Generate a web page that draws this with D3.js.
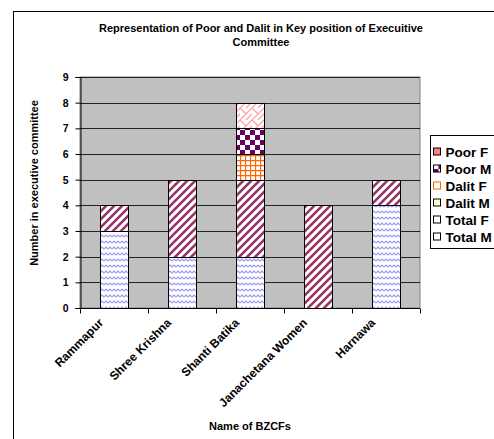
<!DOCTYPE html>
<html><head><meta charset="utf-8">
<script src="https://cdn.jsdelivr.net/npm/d3@7/dist/d3.min.js"></script>
<style>body{margin:0;background:#fff;}svg{display:block;font-family:Arial,"Liberation Sans",sans-serif;}</style>
</head><body>
<svg id="c" width="494" height="439"></svg>
<script>
const categories = ["Rammapur","Shree Krishna","Shanti Batika","Janachetana Women","Harnawa"];
const seriesNames = ["Poor F","Poor M","Dalit F","Dalit M","Total F","Total M"];
const totalM = [3,2,2,0,4];
const totalF = [1,3,3,4,1];
const dalitM = [0,0,0,0,0];
const dalitF = [0,0,1,0,0];
const poorM  = [0,0,1,0,0];
const poorF  = [0,0,1,0,0];
const yTicks = [0,1,2,3,4,5,6,7,8,9];

const svg = d3.select("#c");
const defs = svg.append("defs");

function pat(id,w,h,bg){const p=defs.append("pattern").attr("id",id).attr("patternUnits","userSpaceOnUse").attr("width",w).attr("height",h);p.append("rect").attr("width",w).attr("height",h).attr("fill",bg||"#fff");return p;}
let p;
p=pat("pTotalM",8,6);
p.append("path").attr("d","M0,3 L2,1 L4,3 L6,1 L8,3").attr("fill","none").attr("stroke","#9c9cf2").attr("stroke-width",1.2);
p=pat("pTotalF",8,8);
p.append("path").attr("d","M-2,10 L10,-2 M-6,6 L6,-6 M2,14 L14,2").attr("stroke","#993366").attr("stroke-width",2.6);
p=pat("pDalitF",5,5);
p.append("path").attr("d","M0,0.5 H5 M0.5,0 V5").attr("stroke","#ff6600").attr("stroke-width",1.3);
p=pat("pPoorM",10,10);
p.append("rect").attr("x",0).attr("y",0).attr("width",5).attr("height",5).attr("fill","#660066");
p.append("rect").attr("x",5).attr("y",5).attr("width",5).attr("height",5).attr("fill","#660066");
p=pat("pPoorF",12,12);
p.append("path").attr("d","M0,12 L12,0 M0,0 L6,6 M6,12 L12,6 M-1,1 L1,-1 M11,13 L13,11").attr("stroke","#ff9999").attr("stroke-width",1.2).attr("fill","none");
p=pat("pDalitM",4,4,"#ffffcc");

const fills = {"Poor F":"url(#pPoorF)","Poor M":"url(#pPoorM)","Dalit F":"url(#pDalitF)","Dalit M":"url(#pDalitM)","Total F":"url(#pTotalF)","Total M":"url(#pTotalM)"};

svg.append("rect").attr("x",13.5).attr("y",11.5).attr("width",500).attr("height",450).attr("fill","none").attr("stroke","#000").attr("stroke-width",1);

const L=80,R=420,T=77,B=308;
const x=d3.scaleBand().domain(categories).range([L,R]).paddingInner(0.59).paddingOuter(0.295);
const y=d3.scaleLinear().domain([0,9]).range([B,T]);

svg.append("rect").attr("x",L).attr("y",T).attr("width",R-L).attr("height",B-T).attr("fill","#c0c0c0").attr("stroke","#808080");
svg.append("g").selectAll("line").data(yTicks.slice(1)).join("line")
 .attr("x1",L).attr("x2",R).attr("y1",d=>Math.round(y(d))+0.5).attr("y2",d=>Math.round(y(d))+0.5).attr("stroke","#222").attr("stroke-width",1);

const rows = categories.map((c,i)=>({cat:c,"Total M":totalM[i],"Total F":totalF[i],"Dalit M":dalitM[i],"Dalit F":dalitF[i],"Poor M":poorM[i],"Poor F":poorF[i]}));
const order=["Total M","Total F","Dalit M","Dalit F","Poor M","Poor F"];
const stack=d3.stack().keys(order)(rows);
svg.append("g").selectAll("g").data(stack).join("g").attr("fill",d=>fills[d.key])
 .selectAll("rect").data(d=>d.filter(v=>v[1]>v[0])).join("rect")
 .attr("x",d=>Math.round(x(d.data.cat))+0.5).attr("width",Math.round(x.bandwidth()))
 .attr("y",d=>Math.round(y(d[1]))+0.5).attr("height",d=>Math.round(y(d[0]))-Math.round(y(d[1])))
 .attr("stroke","#000").attr("stroke-width",1);

const ya=svg.append("g").attr("transform",`translate(${L+0.5},0)`).call(d3.axisLeft(y).tickValues(yTicks).tickSize(5).tickPadding(7));
ya.select(".domain").attr("stroke","#000");
ya.selectAll("text").attr("font-size",10.5).attr("font-weight","bold").attr("font-family","Arial");
const xa=svg.append("g").attr("transform",`translate(0,${B+0.5})`);
xa.append("line").attr("x1",L).attr("x2",R).attr("stroke","#000");
const xt=[0,1,2,3,4,5].map(i=>L+i*(R-L)/5);
xa.selectAll("line.t").data(xt).join("line").attr("class","t").attr("x1",d=>Math.round(d)+0.5).attr("x2",d=>Math.round(d)+0.5).attr("y1",0).attr("y2",5).attr("stroke","#000");
xa.selectAll("text").data(categories).join("text")
 .attr("transform",d=>`translate(${x(d)+x.bandwidth()/2-10},${15}) rotate(-45)`)
 .attr("text-anchor","end").attr("font-size",12).attr("font-weight","bold").text(d=>d);

svg.append("text").attr("x",261).attr("y",32).attr("text-anchor","middle").attr("font-size",11).attr("font-weight","bold").text("Representation of Poor and Dalit in Key position of Execuitive");
svg.append("text").attr("x",261).attr("y",46).attr("text-anchor","middle").attr("font-size",11).attr("font-weight","bold").text("Committee");
svg.append("text").attr("transform","translate(38,183) rotate(-90)").attr("text-anchor","middle").attr("font-size",11).attr("font-weight","bold").text("Number in executive committee");
svg.append("text").attr("x",250).attr("y",430).attr("text-anchor","middle").attr("font-size",11).attr("font-weight","bold").text("Name of BZCFs");

const lg=svg.append("g").attr("transform","translate(430.5,135.5)");
lg.append("rect").attr("width",80).attr("height",113).attr("fill","#fff").attr("stroke","#000");
const legColors={"Poor F":"#ff8080","Poor M":"#660066","Dalit F":"#ff6600","Dalit M":"#ffffcc","Total F":"#993366","Total M":"#9999ff"};
const le=lg.selectAll("g").data(seriesNames).join("g").attr("transform",(d,i)=>`translate(3,${16.5+i*17})`);
le.append("rect").attr("x",0).attr("y",-4).attr("width",7).attr("height",7).attr("fill",d=>d==="Poor M"?"url(#pPoorM)":d==="Dalit F"||d==="Total F"||d==="Total M"?"#fff":legColors[d]).attr("stroke",d=>d==="Dalit F"?"#ff6600":"#000").attr("stroke-width",1);
le.append("text").attr("x",12).attr("y",0).attr("dy","0.36em").attr("font-size",13.5).attr("font-weight","bold").text(d=>d);
</script>
</body></html>
